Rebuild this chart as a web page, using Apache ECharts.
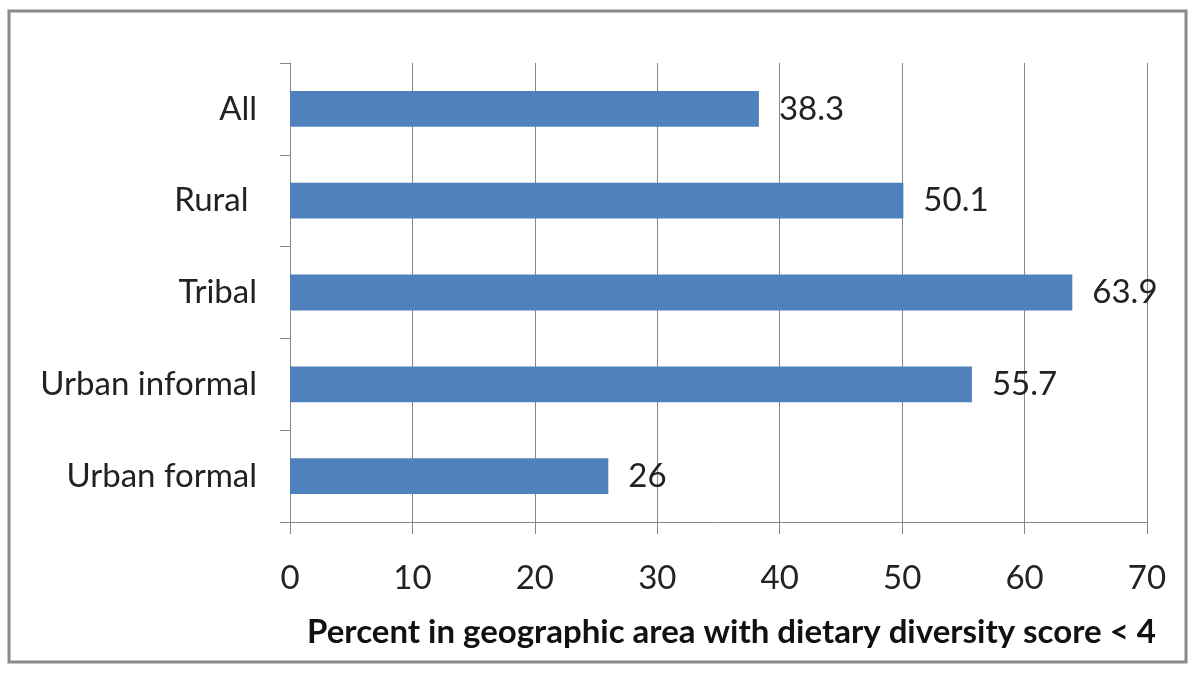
<!DOCTYPE html>
<html>
<head>
<meta charset="utf-8">
<script src="https://cdn.jsdelivr.net/npm/echarts@6/dist/echarts.min.js"></script>
<style>
html,body{margin:0;padding:0;background:#fff;}
#c{width:1200px;height:675px;}
</style>
</head>
<body>
<div id="c"></div>
<script>
const categories = ["All", "Rural ", "Tribal", "Urban informal", "Urban formal"];
const values = [38.3, 50.1, 63.9, 55.7, 26];
const xTicks = [0, 10, 20, 30, 40, 50, 60, 70];
const axisTitle = "Percent in geographic area with dietary diversity score < 4";

const chart = echarts.init(document.getElementById('c'), null, {renderer: 'canvas'});
const font = 'Lato, "Open Sans", sans-serif';
const gray = '#878787';
chart.setOption({
  animation: false,
  backgroundColor: '#fff',
  graphic: [{
    type: 'rect',
    shape: {x: 9, y: 11, width: 1177, height: 651},
    style: {fill: 'none', stroke: '#8a8a8a', lineWidth: 3},
    z: 100
  }],
  grid: {left: 290, right: 53, top: 63, bottom: 153, containLabel: false},
  xAxis: {
    type: 'value',
    min: xTicks[0], max: xTicks[xTicks.length - 1], interval: 10,
    axisLine: {show: true, lineStyle: {color: gray, width: 1}},
    axisTick: {show: true, length: 12, lineStyle: {color: gray}},
    splitLine: {show: true, lineStyle: {color: gray, width: 1}},
    axisLabel: {margin: 40, fontSize: 33, color: '#222', fontFamily: font},
    name: axisTitle,
    nameLocation: 'middle',
    nameGap: 94,
    nameTextStyle: {fontSize: 33, fontWeight: 'bold', color: '#111', fontFamily: font, padding: [0, 0, 0, 26]}
  },
  yAxis: {
    type: 'category',
    data: categories,
    inverse: true,
    axisLine: {show: true, lineStyle: {color: gray, width: 1}},
    axisTick: {show: true, length: 10, lineStyle: {color: gray}},
    axisLabel: {margin: 33, fontSize: 33, color: '#222', fontFamily: font}
  },
  series: [{
    type: 'bar',
    data: values,
    barWidth: '39%',
    itemStyle: {color: '#4F81BD'},
    label: {show: true, position: 'right', distance: 20, fontSize: 33, color: '#222', fontFamily: font}
  }]
});
</script>
</body>
</html>
